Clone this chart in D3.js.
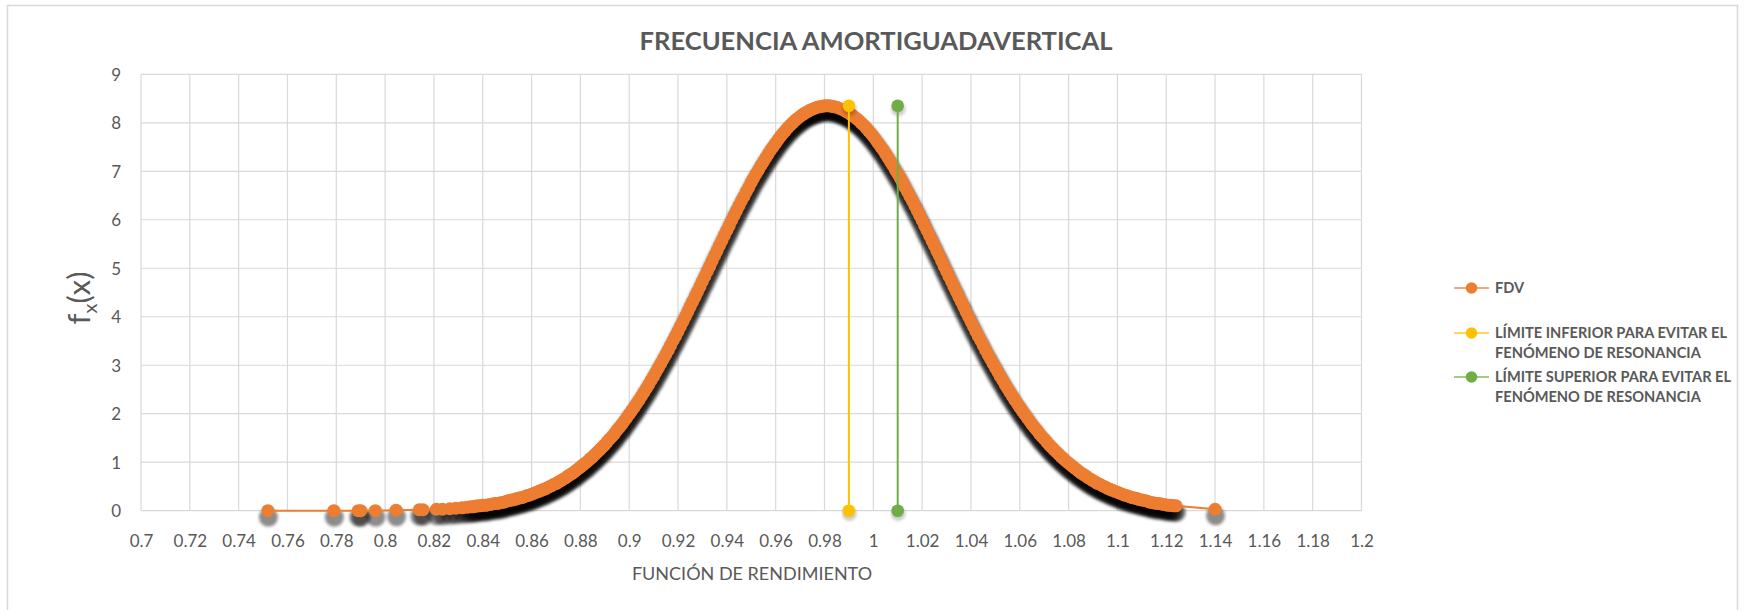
<!DOCTYPE html>
<html><head><meta charset="utf-8">
<script src="https://cdn.jsdelivr.net/npm/d3@7"></script>
<style>
body{margin:0;background:#fff}
svg{display:block}
text{font-family:Lato,"Open Sans",sans-serif}
</style>
</head><body>
<svg id="c" width="1745" height="610"></svg>
<script>
// ---------------- DATA ----------------
const chartTitle = "FRECUENCIA AMORTIGUADAVERTICAL";
const xAxisTitle = "FUNCIÓN DE RENDIMIENTO";
const xTicks = [0.7,0.72,0.74,0.76,0.78,0.8,0.82,0.84,0.86,0.88,0.9,0.92,0.94,0.96,0.98,1,1.02,1.04,1.06,1.08,1.1,1.12,1.14,1.16,1.18,1.2];
const xTickLabels = ["0.7","0.72","0.74","0.76","0.78","0.8","0.82","0.84","0.86","0.88","0.9","0.92","0.94","0.96","0.98","1","1.02","1.04","1.06","1.08","1.1","1.12","1.14","1.16","1.18","1.2"];
const yTicks = [0,1,2,3,4,5,6,7,8,9];
const yTickLabels = ["0","1","2","3","4","5","6","7","8","9"];

// FDV series: sparse lower tail
const fdvTailLowX = [0.752,0.779,0.789,0.790,0.796,0.8045,0.814,0.8155,0.821,0.8235,0.8265,0.829,0.8315,0.8335,0.835];
const fdvTailLowY = [0.00,0.00,0.00,0.00,0.00,0.01,0.02,0.02,0.03,0.03,0.04,0.05,0.06,0.07,0.08];
// FDV series: dense core
const fdvCoreX = [
0.836,0.837,0.838,0.839,0.840,0.841,0.842,0.843,0.844,0.845,
0.846,0.847,0.848,0.849,0.850,0.851,0.852,0.853,0.854,0.855,
0.856,0.857,0.858,0.859,0.860,0.861,0.862,0.863,0.864,0.865,
0.866,0.867,0.868,0.869,0.870,0.871,0.872,0.873,0.874,0.875,
0.876,0.877,0.878,0.879,0.880,0.881,0.882,0.883,0.884,0.885,
0.886,0.887,0.888,0.889,0.890,0.891,0.892,0.893,0.894,0.895,
0.896,0.897,0.898,0.899,0.900,0.901,0.902,0.903,0.904,0.905,
0.906,0.907,0.908,0.909,0.910,0.911,0.912,0.913,0.914,0.915,
0.916,0.917,0.918,0.919,0.920,0.921,0.922,0.923,0.924,0.925,
0.926,0.927,0.928,0.929,0.930,0.931,0.932,0.933,0.934,0.935,
0.936,0.937,0.938,0.939,0.940,0.941,0.942,0.943,0.944,0.945,
0.946,0.947,0.948,0.949,0.950,0.951,0.952,0.953,0.954,0.955,
0.956,0.957,0.958,0.959,0.960,0.961,0.962,0.963,0.964,0.965,
0.966,0.967,0.968,0.969,0.970,0.971,0.972,0.973,0.974,0.975,
0.976,0.977,0.978,0.979,0.980,0.981,0.982,0.983,0.984,0.985,
0.986,0.987,0.988,0.989,0.990,0.991,0.992,0.993,0.994,0.995,
0.996,0.997,0.998,0.999,1.000,1.001,1.002,1.003,1.004,1.005,
1.006,1.007,1.008,1.009,1.010,1.011,1.012,1.013,1.014,1.015,
1.016,1.017,1.018,1.019,1.020,1.021,1.022,1.023,1.024,1.025,
1.026,1.027,1.028,1.029,1.030,1.031,1.032,1.033,1.034,1.035,
1.036,1.037,1.038,1.039,1.040,1.041,1.042,1.043,1.044,1.045,
1.046,1.047,1.048,1.049,1.050,1.051,1.052,1.053,1.054,1.055,
1.056,1.057,1.058,1.059,1.060,1.061,1.062,1.063,1.064,1.065,
1.066,1.067,1.068,1.069,1.070,1.071,1.072,1.073,1.074,1.075,
1.076,1.077,1.078,1.079,1.080,1.081,1.082,1.083,1.084,1.085,
1.086,1.087,1.088,1.089,1.090,1.091,1.092,1.093,1.094,1.095,
1.096,1.097,1.098,1.099,1.100,1.101,1.102,1.103,1.104,1.105,
1.106,1.107,1.108,1.109,1.110,1.111,1.112,1.113,1.114,1.115,
1.116,1.117,1.118,1.119,1.120,1.121,1.122,1.123,1.124];
const fdvCoreY = [
0.08,0.09,0.10,0.10,0.11,0.11,0.12,0.13,0.14,0.15,
0.15,0.16,0.17,0.18,0.20,0.21,0.22,0.23,0.25,0.26,
0.27,0.29,0.31,0.32,0.34,0.36,0.38,0.40,0.42,0.44,
0.46,0.49,0.51,0.54,0.56,0.59,0.62,0.65,0.68,0.72,
0.75,0.78,0.82,0.86,0.90,0.94,0.98,1.02,1.07,1.11,
1.16,1.21,1.26,1.31,1.36,1.42,1.48,1.53,1.59,1.66,
1.72,1.78,1.85,1.92,1.99,2.06,2.13,2.21,2.28,2.36,
2.44,2.52,2.60,2.69,2.77,2.86,2.95,3.04,3.13,3.22,
3.31,3.41,3.51,3.60,3.70,3.80,3.90,4.00,4.10,4.21,
4.31,4.41,4.52,4.62,4.73,4.83,4.94,5.04,5.15,5.26,
5.36,5.47,5.57,5.68,5.78,5.88,5.99,6.09,6.19,6.29,
6.39,6.48,6.58,6.67,6.77,6.86,6.95,7.03,7.12,7.20,
7.28,7.36,7.44,7.51,7.58,7.65,7.72,7.78,7.84,7.90,
7.95,8.00,8.05,8.09,8.13,8.17,8.20,8.23,8.26,8.28,
8.30,8.32,8.33,8.34,8.35,8.35,8.35,8.34,8.33,8.32,
8.30,8.28,8.26,8.23,8.20,8.17,8.13,8.09,8.05,8.00,
7.95,7.90,7.84,7.78,7.72,7.65,7.58,7.51,7.44,7.36,
7.28,7.20,7.12,7.03,6.95,6.86,6.77,6.67,6.58,6.48,
6.39,6.29,6.19,6.09,5.99,5.88,5.78,5.68,5.57,5.47,
5.36,5.26,5.15,5.04,4.94,4.83,4.73,4.62,4.52,4.41,
4.31,4.21,4.10,4.00,3.90,3.80,3.70,3.60,3.51,3.41,
3.31,3.22,3.13,3.04,2.95,2.86,2.77,2.69,2.60,2.52,
2.44,2.36,2.28,2.21,2.13,2.06,1.99,1.92,1.85,1.78,
1.72,1.66,1.59,1.53,1.48,1.42,1.36,1.31,1.26,1.21,
1.16,1.11,1.07,1.02,0.98,0.94,0.90,0.86,0.82,0.78,
0.75,0.72,0.68,0.65,0.62,0.59,0.56,0.54,0.51,0.49,
0.46,0.44,0.42,0.40,0.38,0.36,0.34,0.32,0.31,0.29,
0.27,0.26,0.25,0.23,0.22,0.21,0.20,0.18,0.17,0.16,
0.15,0.15,0.14,0.13,0.12,0.11,0.11,0.10,0.10];
// FDV series: sparse upper tail
const fdvTailHighX = [1.14];
const fdvTailHighY = [0.03];

// Limit series (vertical lines)
const limInfX = [0.99, 0.99];
const limInfY = [0, 8.35];
const limSupX = [1.01, 1.01];
const limSupY = [0, 8.35];

const seriesNames = ["FDV",
  ["LÍMITE INFERIOR PARA EVITAR EL","FENÓMENO DE RESONANCIA"],
  ["LÍMITE SUPERIOR PARA EVITAR EL","FENÓMENO DE RESONANCIA"]];
const seriesColors = ["#ED7D31","#FFC000","#70AD47"];

// ---------------- CHART ----------------
const svg = d3.select("#c");
const TXT = "#595959", GRID = "#D9D9D9";

const defs = svg.append("defs");
defs.append("filter").attr("id","blur").attr("x","-5%").attr("y","-5%").attr("width","110%").attr("height","110%")
  .append("feGaussianBlur").attr("stdDeviation",1.4);

svg.append("rect").attr("x",7.5).attr("y",5.5).attr("width",1730).attr("height",620)
  .attr("fill","#fff").attr("stroke",GRID).attr("stroke-width",1.5);

const x = d3.scaleLinear().domain([0.7,1.2]).range([141,1361.5]);
const y = d3.scaleLinear().domain([0,9]).range([510.7,74.3]);

// gridlines
const grid = svg.append("g");
grid.selectAll(".vg").data(xTicks).join("line")
  .attr("x1",d=>x(d)).attr("x2",d=>x(d)).attr("y1",y(9)).attr("y2",y(0))
  .attr("stroke",GRID).attr("stroke-width",1.2);
grid.selectAll(".hg").data(yTicks).join("line")
  .attr("x1",x(0.7)).attr("x2",x(1.2)).attr("y1",d=>y(d)).attr("y2",d=>y(d))
  .attr("stroke",GRID).attr("stroke-width",1.2);

// axes
const xAxis = svg.append("g").attr("transform",`translate(0,${y(0)})`)
  .call(d3.axisBottom(x).tickValues(xTicks).tickFormat((d,i)=>xTickLabels[i]).tickSize(0));
xAxis.select(".domain").remove();
xAxis.selectAll("text").attr("y",36).attr("dy",null)
  .attr("fill",TXT).style("font-size","17px");

const yAxis = svg.append("g").attr("transform",`translate(${x(0.7)},0)`)
  .call(d3.axisLeft(y).tickValues(yTicks).tickFormat((d,i)=>yTickLabels[i]).tickSize(0));
yAxis.select(".domain").remove();
yAxis.selectAll("text").attr("x",-20).attr("dy","0.36em")
  .attr("fill",TXT).style("font-size","17px");

// titles
svg.append("text").attr("x",876).attr("y",49.5).attr("text-anchor","middle")
  .attr("fill",TXT).style("font-size","25px").style("font-weight","bold")
  .attr("textLength",473).attr("lengthAdjust","spacingAndGlyphs")
  .text(chartTitle);
svg.append("text").attr("x",752).attr("y",580).attr("text-anchor","middle")
  .attr("fill",TXT).style("font-size","18px").text(xAxisTitle);
const yt = svg.append("text").attr("transform","translate(90,298) rotate(-90)")
  .attr("text-anchor","middle").attr("fill",TXT).style("font-size","31px");
yt.append("tspan").text("f");
yt.append("tspan").attr("dy",7).style("font-size","20px").text("x");
yt.append("tspan").attr("dy",-7).text("(x)");

// series helper
function drawSeries(xs, ys, color, r, lineW, shOpacity, shDy, shGrow){
  const pts = xs.map((v,i)=>[x(v), y(ys[i])]);
  const g = svg.append("g");
  // shadow layer
  g.append("g").attr("filter","url(#blur)").attr("transform",`translate(0.5,${shDy})`)
    .selectAll("circle").data(pts).join("circle")
    .attr("cx",d=>d[0]).attr("cy",d=>d[1]).attr("r",r+shGrow)
    .attr("fill","#000").attr("fill-opacity",shOpacity);
  g.append("path").attr("d",d3.line()(pts)).attr("fill","none")
    .attr("stroke",color).attr("stroke-width",lineW);
  g.selectAll(".m").data(pts).join("circle")
    .attr("cx",d=>d[0]).attr("cy",d=>d[1]).attr("r",r).attr("fill",color);
}

const fdvX = fdvTailLowX.concat(fdvCoreX, fdvTailHighX);
const fdvY = fdvTailLowY.concat(fdvCoreY, fdvTailHighY);
drawSeries(fdvX, fdvY, seriesColors[0], 6.5, 2, 0.45, 6.5, 3);
drawSeries(limInfX, limInfY, seriesColors[1], 6.3, 2, 0.2, 3, 1);
drawSeries(limSupX, limSupY, seriesColors[2], 6.3, 2, 0.2, 3, 1);

// legend
const legY = [288, 333, 377];
const lg = svg.append("g");
seriesNames.forEach((nm,i)=>{
  lg.append("line").attr("x1",1454).attr("x2",1489).attr("y1",legY[i]).attr("y2",legY[i])
    .attr("stroke",seriesColors[i]).attr("stroke-width",1.8).attr("stroke-opacity",0.65);
  lg.append("circle").attr("cx",1471.5).attr("cy",legY[i]).attr("r",5.8).attr("fill",seriesColors[i]);
  const lines = Array.isArray(nm)?nm:[nm];
  lines.forEach((t,j)=>{
    lg.append("text").attr("x",1495).attr("y",legY[i]+5+j*19.5)
      .attr("fill",TXT).style("font-size","14.6px").style("font-weight","bold").text(t);
  });
});
</script>
</body></html>
